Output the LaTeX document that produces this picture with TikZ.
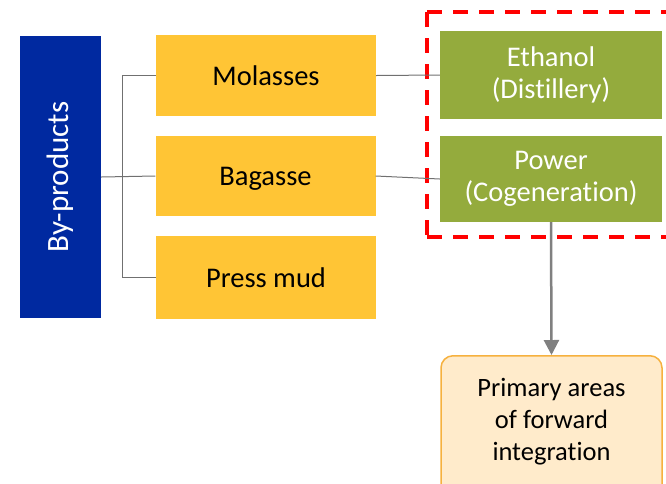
\documentclass[tikz,border=0pt]{standalone}
\usepackage{fontspec}
\setmainfont[Ligatures=NoCommon]{Carlito}
\usetikzlibrary{arrows.meta}
\definecolor{bpblue}{HTML}{0029A0}
\definecolor{bpyellow}{HTML}{FFC535}
\definecolor{bpgreen}{HTML}{94AB3D}
\definecolor{bpline}{HTML}{707070}
\definecolor{bparrow}{HTML}{808080}
\definecolor{primfill}{HTML}{FFEBCB}
\definecolor{primdraw}{HTML}{F6B13F}
\tikzset{
  box/.style={inner sep=0pt, align=center, font=\fontsize{28.5}{31.5}\selectfont},
  yellowbox/.style={box, fill=bpyellow, text=black, minimum width=220pt, text depth=0pt},
  greenbox/.style={box, fill=bpgreen, text=white, minimum width=222pt},
  conn/.style={draw=bpline, line width=1pt},
  flowarrow/.style={draw=bparrow, line width=2.5pt, -{Triangle[width=15pt,length=15pt]}},
  groupframe/.style={draw=red, line width=4.3pt, dash pattern=on 15pt off 11pt},
}
\begin{document}
\begin{tikzpicture}[x=1pt,y=-1pt]
\useasboundingbox (0,0) rectangle (666,483);
% by-products
\node[box, fill=bpblue, minimum width=81pt, minimum height=282pt] (byp) at (60.5,177) {};
\node[box, text=white, rotate=90, font=\fontsize{31}{34}\selectfont] (byptxt) at (60.5,177) {By-products};
% by-product boxes
\node[yellowbox, minimum height=81pt] (mol) at (266,75.5) {Molasses};
\node[yellowbox, minimum height=80pt] (bag) at (265.5,176) {Bagasse};
\node[yellowbox, minimum height=83pt] (press) at (266,277.5) {Press mud};
% products
\node[greenbox, minimum height=88pt] (eth) at (551,75) {Ethanol\\(Dist\kern0pt illery)};
\node[greenbox, minimum height=86pt] (pow) at (551,179) {Power\\(Cogenerat\kern0pt ion)};
% red dashed frame
\draw[groupframe] (427,12) -- (680,12);
\draw[groupframe] (427,237) -- (680,237);
\draw[groupframe] (427,12) -- (427,237);
% primary areas
\node[box, draw=primdraw, fill=primfill, line width=1.5pt, rounded corners=12pt,
      minimum width=221pt, minimum height=150pt, anchor=north] (prim) at (551.5,355) {};
\node[box, text=black, font=\fontsize{26.5}{32}\selectfont] (primtxt) at (551.5,422) {Primary areas\\of forward\\integrat\kern0pt ion};
% connectors
\draw[conn] (byp.east) -- (bag.west);
\draw[conn] (mol.west) -- ++(-33,0) |- (press.west);
\draw[conn] (mol.east) -- (eth.west);
\draw[conn] (bag.east) -- (pow.west);
\draw[flowarrow] (pow.south) -- (prim.north);
\end{tikzpicture}
\end{document}
